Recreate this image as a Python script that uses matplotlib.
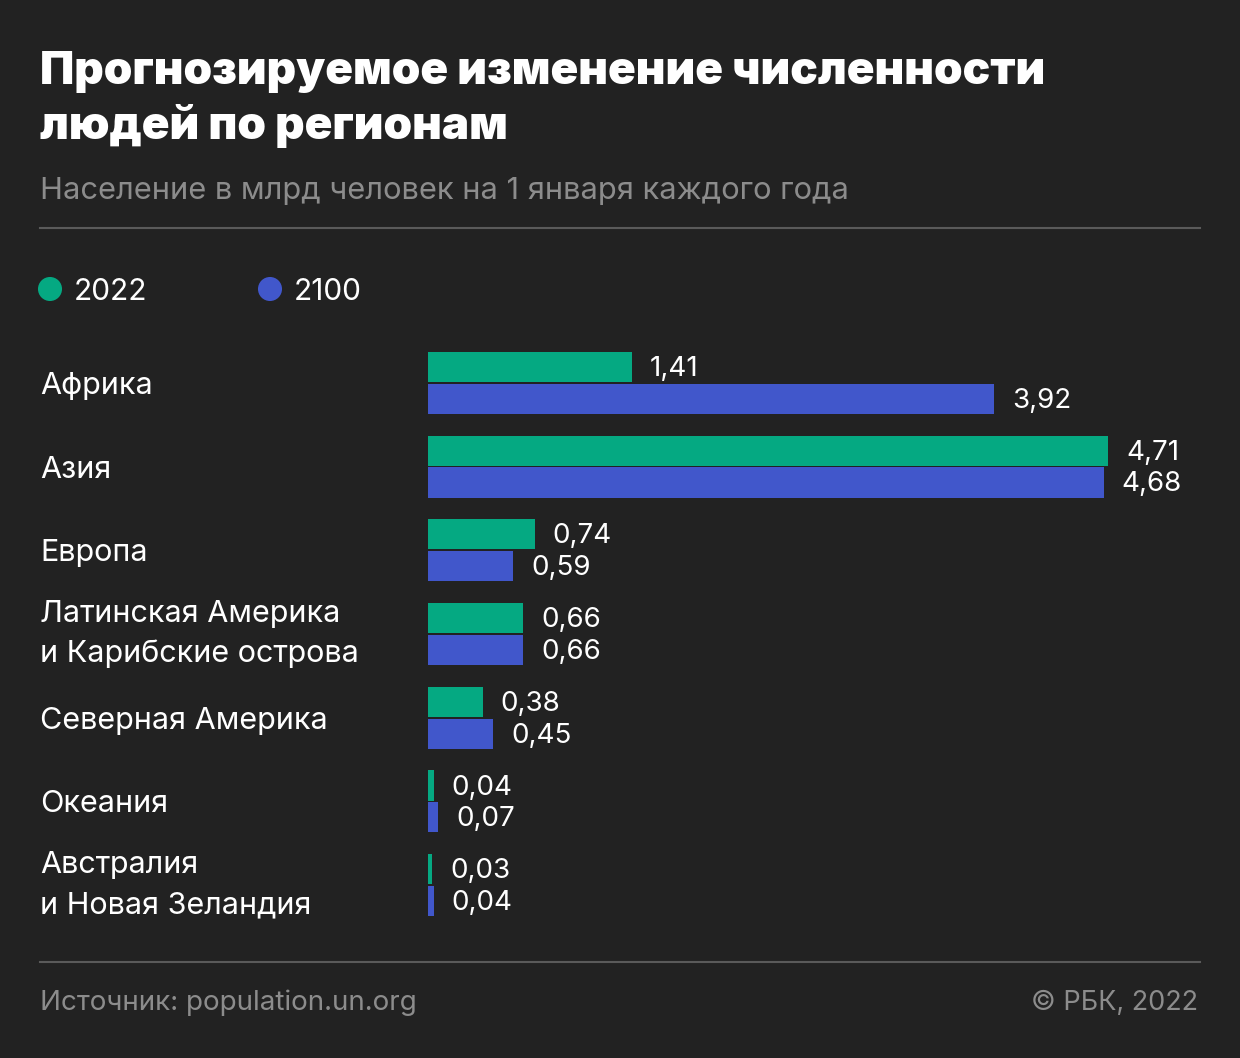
import matplotlib
matplotlib.use("Agg")
import matplotlib.pyplot as plt
import numpy as np

plt.rcParams['font.family'] = ['Inter', 'DejaVu Sans']

# данные
regions = ["Африка", "Азия", "Европа", "Латинская Америка\nи Карибские острова",
           "Северная Америка", "Океания", "Австралия\nи Новая Зеландия"]
pop_2022 = [1.41, 4.71, 0.74, 0.66, 0.38, 0.04, 0.03]
pop_2100 = [3.92, 4.68, 0.59, 0.66, 0.45, 0.07, 0.04]
years = ["2022", "2100"]

bg = "#222222"
green = "#05A982"
blue = "#4157CB"
grey = "#8c8c8c"
W, H = 1240, 1058

fig = plt.figure(figsize=(W / 100, H / 100), dpi=100, facecolor=bg)

# фоновая ось в пикселях для заголовков, линий и легенды
ax0 = fig.add_axes([0, 0, 1, 1])
ax0.set_xlim(0, W)
ax0.set_ylim(H, 0)
ax0.axis("off")

ax0.text(40, 84, "Прогнозируемое изменение численности", color="white",
         fontsize=33, fontweight="black", va="baseline")
ax0.text(40, 139, "людей по регионам", color="white",
         fontsize=33, fontweight="black", va="baseline")
ax0.text(40, 199, "Население в млрд человек на 1 января каждого года",
         color=grey, fontsize=22.2, va="baseline")
ax0.plot([40, 1200], [228, 228], color="#5a5a5a", lw=1.5)
ax0.plot([40, 1200], [962, 962], color="#5a5a5a", lw=1.5)

for x0, lab, c in [(50, years[0], green), (270, years[1], blue)]:
    ax0.scatter([x0], [289], s=300, color=c, edgecolors="none")
    ax0.text(x0 + 24, 300, lab, color="white", fontsize=21.5, va="baseline")

ax0.text(40, 1010, "Источник: population.un.org", color=grey, fontsize=20,
         va="baseline")
ax0.text(1198, 1010, "© РБК, 2022", color=grey, fontsize=19.5,
         va="baseline", ha="right")

# бары
left_px, right_px, top_px, bot_px = 428, 1200, 341, 927
ax = fig.add_axes([left_px / W, 1 - bot_px / H, (right_px - left_px) / W,
                   (bot_px - top_px) / H])
ax.set_facecolor("none")
scale = 144.4
ax.set_xlim(0, (right_px - left_px) / scale)
ax.set_ylim(len(regions) - 0.5, -0.5)
ax.axis("off")

y = np.arange(len(regions))
off = 0.19
h = 0.36
ax.barh(y - off, pop_2022, height=h, color=green, align="center")
ax.barh(y + off, pop_2100, height=h, color=blue, align="center")

def fmt(v):
    return f"{v:.2f}".replace(".", ",")

for i in range(len(regions)):
    for v, yy in [(pop_2022[i], y[i] - off), (pop_2100[i], y[i] + off)]:
        ax.annotate(fmt(v), xy=(v, yy), xytext=(18, -9),
                    textcoords="offset pixels", color="white", fontsize=20,
                    va="baseline", ha="left")
    lines = regions[i].split("\n")
    if len(lines) == 1:
        offs = [-11]
    else:
        offs = [12, -28]
    for ln, dy in zip(lines, offs):
        ax.annotate(ln, xy=(40, y[i]), xycoords=("figure pixels", "data"),
                    xytext=(0, dy), textcoords="offset pixels", color="white",
                    fontsize=22, va="baseline", ha="left")

fig.savefig("out.png", dpi=100, facecolor=bg)
